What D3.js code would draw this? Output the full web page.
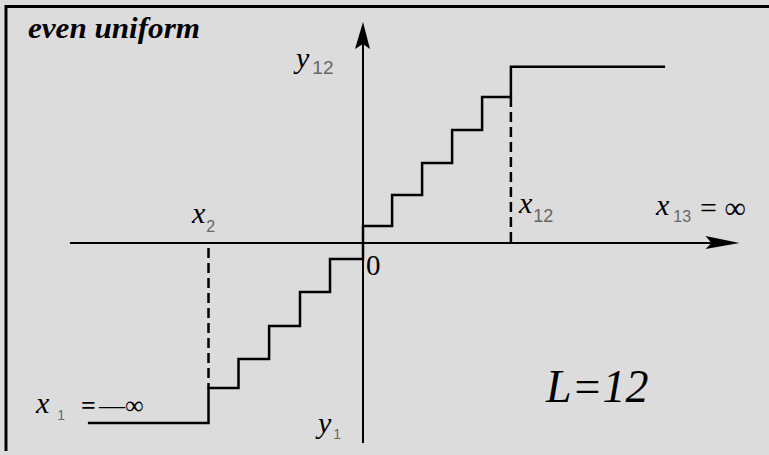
<!DOCTYPE html>
<html>
<head>
<meta charset="utf-8">
<script src="https://cdn.jsdelivr.net/npm/d3@7/dist/d3.min.js"></script>
<style>
  html, body { margin: 0; padding: 0; background: #dcdcdc; }
  svg { display: block; }
</style>
</head>
<body>
<svg id="chart" width="769" height="455"></svg>
<script>
// Uniform quantizer with L = 12 output levels.
// Decision boundaries x2 .. x12 (x1 = -inf, x13 = +inf), in step units.
const boundaries = [-5.15, -4.15, -3.13, -2.1, -1.1, 0, 0.97, 1.97, 2.97, 3.97, 4.93];
// Reconstruction levels y1 .. y12, in level units.
const levels = [-5.54, -4.46, -3.57, -2.55, -1.51, -0.49, 0.52, 1.48, 2.46, 3.48, 4.49, 5.42];
// Visible extent of the outer (infinite) cells.
const outerEnds = [-9.17, 10.07];
// Axis extents.
const xAxisExtent = [-9.77, 12.55];
const yAxisExtent = [-6.15, 6.8];

const svg = d3.select("#chart");
const W = 769, H = 455;

const x = d3.scaleLinear().domain([0, 1]).range([363, 393]);
const y = d3.scaleLinear().domain([0, 1]).range([243, 210.5]);

// background and frame
svg.append("rect").attr("width", W).attr("height", H).attr("fill", "#dcdcdc");
svg.append("line").attr("x1", 5).attr("x2", 769).attr("y1", 6.5).attr("y2", 6.5)
  .attr("stroke", "#000").attr("stroke-width", 3);
svg.append("line").attr("x1", 6).attr("x2", 6).attr("y1", 5).attr("y2", 451)
  .attr("stroke", "#000").attr("stroke-width", 3);

// axes
svg.append("line")
  .attr("x1", x(xAxisExtent[0])).attr("x2", x(xAxisExtent[1]) - 10)
  .attr("y1", y(0)).attr("y2", y(0))
  .attr("stroke", "#000").attr("stroke-width", 2);
svg.append("line")
  .attr("x1", x(0)).attr("x2", x(0))
  .attr("y1", y(yAxisExtent[0])).attr("y2", y(yAxisExtent[1]) + 10)
  .attr("stroke", "#000").attr("stroke-width", 2);

// arrow heads
const ax = x(xAxisExtent[1]), ay = y(0);
svg.append("path")
  .attr("d", `M${ax},${ay} L${ax - 34},${ay - 7} L${ax - 28},${ay} L${ax - 34},${ay + 6} Z`)
  .attr("fill", "#000");
const tx = x(0), ty = y(yAxisExtent[1]);
svg.append("path")
  .attr("d", `M${tx},${ty} L${tx + 7},${ty + 27} L${tx},${ty + 22} L${tx - 8},${ty + 27} Z`)
  .attr("fill", "#000");

// staircase
const pts = [];
pts.push([outerEnds[0], levels[0]]);
boundaries.forEach((b, i) => {
  pts.push([b, levels[i]]);
  pts.push([b, levels[i + 1]]);
});
pts.push([outerEnds[1], levels[levels.length - 1]]);

const line = d3.line().x(d => x(d[0])).y(d => y(d[1]));
svg.append("path")
  .attr("d", line(pts))
  .attr("fill", "none")
  .attr("stroke", "#000")
  .attr("stroke-width", 2.5)
  .attr("stroke-linejoin", "miter");

// dashed guides at x2 and x12
const xs2 = boundaries[0], xs12 = boundaries[boundaries.length - 1];
svg.append("line")
  .attr("x1", x(xs2)).attr("x2", x(xs2))
  .attr("y1", y(0) + 5).attr("y2", y(levels[1]))
  .attr("stroke", "#000").attr("stroke-width", 2.5).attr("stroke-dasharray", "10,5");
svg.append("line")
  .attr("x1", x(xs12)).attr("x2", x(xs12))
  .attr("y1", y(levels[10])).attr("y2", y(0))
  .attr("stroke", "#000").attr("stroke-width", 2.5).attr("stroke-dasharray", "10,5");

// labels
const serif = "'Liberation Serif', 'DejaVu Serif', serif";
const sans = "'Liberation Sans', Arial, sans-serif";

function subLabel(px, py, main, sub, opts = {}) {
  const size = opts.size || 30;
  const t = svg.append("text")
    .attr("x", px).attr("y", py)
    .attr("font-family", serif).attr("font-style", "italic")
    .attr("font-size", size).attr("fill", "#000");
  t.append("tspan").text(main);
  t.append("tspan")
    .attr("font-family", sans).attr("font-style", "normal")
    .attr("font-size", opts.subSize || 17).attr("fill", "#666")
    .attr("dx", opts.dx || 2).attr("dy", opts.dy || 8)
    .text(sub);
  return t;
}

svg.append("text")
  .attr("x", 28).attr("y", 38)
  .attr("font-family", serif).attr("font-style", "italic").attr("font-weight", "bold")
  .attr("font-size", 30).attr("textLength", 172).attr("lengthAdjust", "spacingAndGlyphs")
  .attr("fill", "#000").text("even uniform");

subLabel(296, 68, "y", "12", { dx: 3, dy: 6, subSize: 19 });
subLabel(192, 223, "x", "2", { dx: 1, dy: 9, subSize: 16 });
subLabel(519, 213, "x", "12", { dx: 1, dy: 9, subSize: 18 });
subLabel(656, 215, "x", "13", { dx: 4, dy: 7, subSize: 16 });
svg.append("text").attr("x", 700).attr("y", 218)
  .attr("font-family", serif).attr("font-size", 30).attr("fill", "#000").text("= ∞");
subLabel(36, 413, "x", "1", { dx: 8, dy: 7, subSize: 14 });
svg.append("text").attr("x", 81).attr("y", 414)
  .attr("font-family", serif).attr("font-size", 26).attr("font-weight", "bold")
  .attr("fill", "#000").text("=");
svg.append("text").attr("x", 99).attr("y", 414)
  .attr("font-family", serif).attr("font-size", 26)
  .attr("fill", "#000").text("—∞");
subLabel(318, 433, "y", "1", { dx: 2, dy: 6, subSize: 14 });

svg.append("text").attr("x", 366).attr("y", 275)
  .attr("font-family", serif).attr("font-size", 29).attr("fill", "#000").text("0");

svg.append("text").attr("x", 546).attr("y", 402)
  .attr("font-family", serif).attr("font-style", "italic")
  .attr("font-size", 46).attr("fill", "#000").text("L=12");
</script>
</body>
</html>
